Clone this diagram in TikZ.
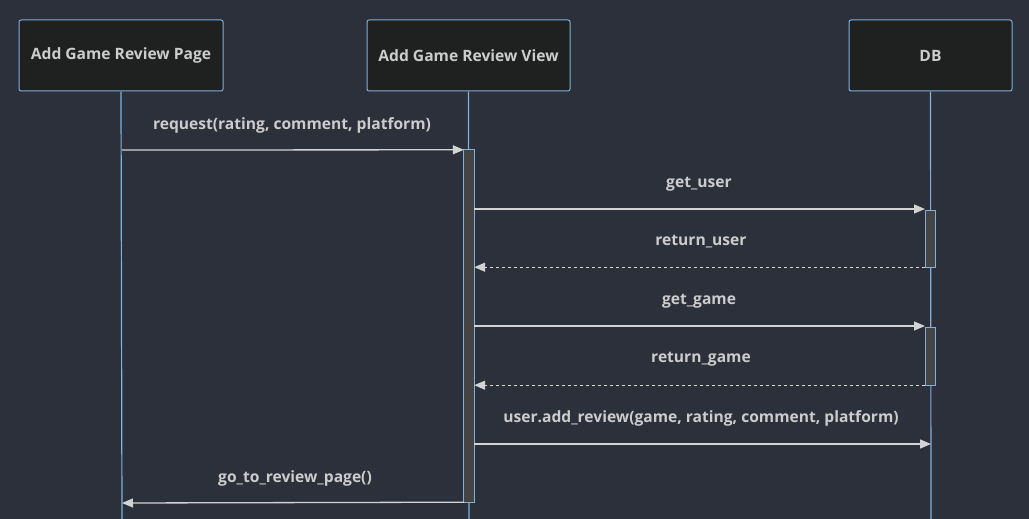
\documentclass[tikz,border=0pt]{standalone}
\usepackage{fontspec}
\setmainfont{Open Sans}
\usetikzlibrary{arrows.meta}
\definecolor{bg}{RGB}{43,48,59}
\definecolor{boxfill}{RGB}{31,32,32}
\definecolor{boxline}{RGB}{129,177,219}
\definecolor{life}{RGB}{129,177,219}
\definecolor{msg}{RGB}{211,211,211}
\definecolor{txt}{RGB}{204,204,204}
\definecolor{actfill}{RGB}{68,68,68}
\tikzset{
  actor/.style={draw=boxline, fill=boxfill, rounded corners=2pt, line width=1pt,
    text=txt, font=\fontsize{15.6}{18}\selectfont\bfseries, inner sep=0pt},
  lifeline/.style={draw=life, line width=1.2pt},
  actframe/.style={inner sep=0pt, minimum width=10pt},
  actbar/.style={draw=life, fill=actfill, line width=0.8pt},
  msgline/.style={draw=msg, line width=1.3pt, -{Triangle[length=11pt,width=9pt]}},
  retline/.style={msgline, dash pattern=on 3pt off 3pt},
  msglabel/.style={text=txt, font=\fontsize{15.6}{18}\selectfont\bfseries, inner sep=0pt},
}
\begin{document}
\begin{tikzpicture}[x=1pt,y=-1pt]
\fill[bg] (0,0) rectangle (1029,519);
\useasboundingbox (0,0) rectangle (1029,519);
% actors
\node[actor, minimum width=204pt, minimum height=71pt] (page) at (121,55.5) {Add Game Review Page};
\node[actor, minimum width=203pt, minimum height=71pt] (view) at (468.5,55.5) {Add Game Review View};
\node[actor, minimum width=163pt, minimum height=71pt] (db) at (930.5,55.5) {DB};
% lifeline ends
\coordinate (pageEnd) at (122,519);
\coordinate (viewEnd) at (469,519);
\coordinate (dbEnd) at (931,519);
\draw[lifeline] (page.south) -- (pageEnd);
\draw[lifeline] (view.south) -- (viewEnd);
\draw[lifeline] (db.south) -- (dbEnd);
% activation bars
\node[actframe, minimum height=352pt] (va) at (469,326) {};
\node[actframe, minimum height=56pt] (da1) at (930.5,239) {};
\node[actframe, minimum height=57pt] (da2) at (930.5,356.5) {};
\draw[actbar] (va.north west) rectangle (va.south east);
\draw[actbar] (da1.north west) rectangle (da1.south east);
\draw[actbar] (da2.north west) rectangle (da2.south east);
% message endpoints
\coordinate (m1s) at (122,150);
\coordinate (m2e) at (925,209);
\coordinate (m4e) at (925,326);
\coordinate (m6e) at (931,444);
\coordinate (m7e) at (122,503);
% messages
\draw[msgline] (m1s) -- (va.north west);
\node[msglabel] (l1) at (292,125) {request(rating, comment, platform)};
\draw[msgline] (va.east |- m2e) -- (m2e);
\node[msglabel] (l2) at (699,184) {get\_user};
\draw[retline] (da1.south west) -- (va.east |- da1.south);
\node[msglabel] (l3) at (701,242) {return\_user};
\draw[msgline] (va.east |- m4e) -- (m4e);
\node[msglabel] (l4) at (699,301) {get\_game};
\draw[retline] (da2.south west) -- (va.east |- da2.south);
\node[msglabel] (l5) at (701,359) {return\_game};
\draw[msgline] (va.east |- m6e) -- (m6e);
\node[msglabel] (l6) at (701,418) {user.add\_review(game, rating, comment, platform)};
\draw[msgline] (va.south west) -- (m7e);
\node[msglabel] (l7) at (295,478) {go\_to\_review\_page()};
\end{tikzpicture}
\end{document}
